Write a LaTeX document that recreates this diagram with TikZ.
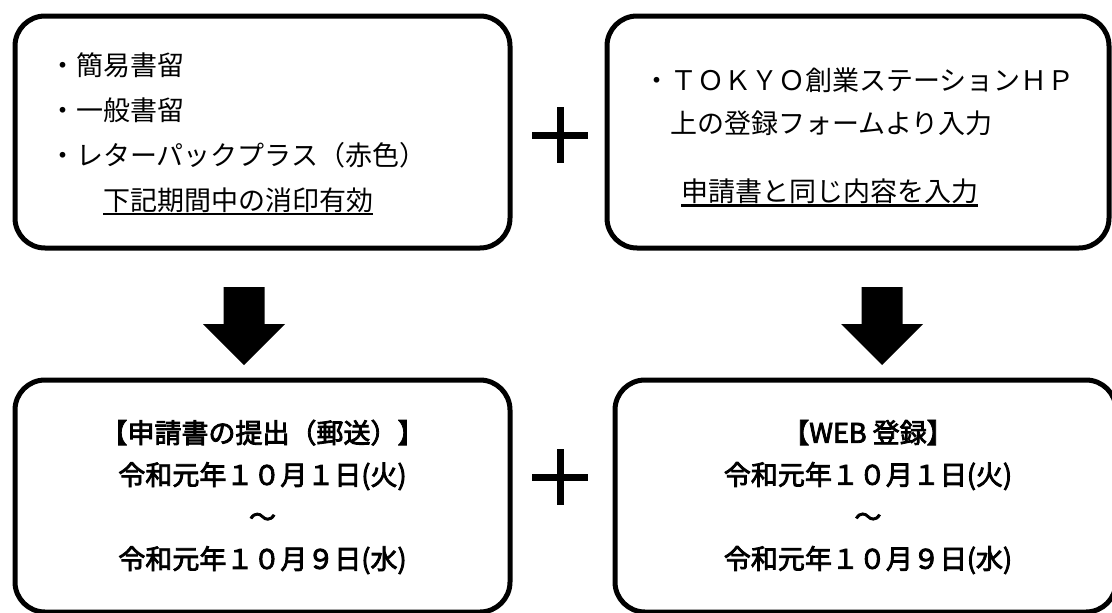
\documentclass[tikz,border=0pt]{standalone}
\usepackage{fontspec}
\setmainfont{Noto Sans CJK JP}
\newfontfamily\semibold[FakeBold=3]{Noto Sans CJK JP}
\usetikzlibrary{positioning}
\tikzset{panel/.style={draw,line width=5pt,rounded corners=30pt,inner sep=0pt,outer sep=0pt,minimum width=495pt,minimum height=232pt},
  note/.style={inner sep=0pt,align=left,anchor=north west,font=\fontsize{27}{45}\selectfont},
  period/.style={inner sep=0pt,align=center,font=\semibold\fontsize{27}{42}\selectfont},}
\newcommand{\undl}[1]{\setbox0=\hbox{#1}\rlap{\rule[-5pt]{\wd0}{2.5pt}}\box0}
\newcommand{\bigdown}[1]{\fill (#1) ++(-20.5,0) -- ++(41,0) -- ++(0,37) -- ++(20.5,0) -- ++(-41,41) -- ++(-41,-41) -- ++(20.5,0) -- cycle;}
\newcommand{\plusmark}[1]{\draw[line width=7pt] (#1) ++(-28,0) -- ++(56,0) (#1) ++(0,-28) -- ++(0,56);}

\begin{document}
\begin{tikzpicture}[x=1pt,y=-1pt]
    \useasboundingbox (0,0) rectangle (1112,613);

    \node[panel] (mailbox) at (262.5,132) {};
    \node[panel, minimum width=502pt] (webbox) [right=97pt of mailbox] {};
    \node[panel, minimum height=232pt] (postbox) [below=132pt of mailbox] {};
    \node[panel, minimum width=501pt] (entrybox) [below=132pt of webbox, xshift=7.5pt] {};

    \node[note] (mailtext) at (49,52) {・簡易書留\\・一般書留\\・レターパックプラス（赤色）\\\hspace*{2em}\undl{下記期間中の消印有効}};
    \node[note, font=\fontsize{27}{43}\selectfont] (webtext) at (643,68) {・ＴＯＫＹＯ創業ステーションＨＰ\\\hspace*{1em}上の登録フォームより入力\\[25pt]\hspace*{1.4em}\undl{申請書と同じ内容を入力}};
    \node[period] (posttext) at (262.5,497) {【申請書の提出（郵送）】\\令和元年１０月１日(火)\\～\\令和元年１０月９日(水)};
    \node[period] (entrytext) at (868,497) {【WEB 登録】\\令和元年１０月１日(火)\\～\\令和元年１０月９日(水)};

    \coordinate (plustop) at (560,135);
    \coordinate (plusbottom) at (560,477);
    \coordinate (mailarrow) at (244,287);
    \coordinate (webarrow) at (882,287);

    \plusmark{plustop}
    \plusmark{plusbottom}
    \bigdown{mailarrow}
    \bigdown{webarrow}
\end{tikzpicture}
\end{document}
